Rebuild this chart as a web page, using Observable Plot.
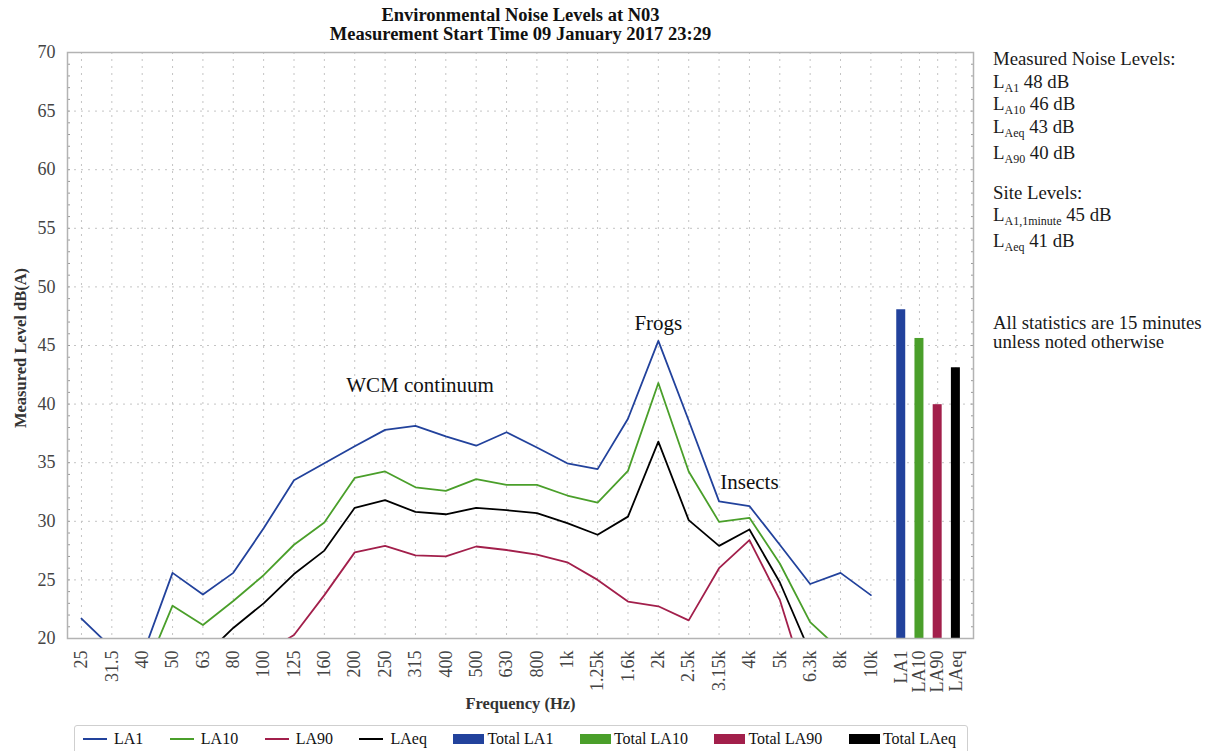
<!DOCTYPE html>
<html>
<head>
<meta charset="utf-8">
<script src="https://cdn.jsdelivr.net/npm/d3@7"></script>
<script src="https://cdn.jsdelivr.net/npm/@observablehq/plot@0.6"></script>
<style>
  body { margin: 0; background: #fff; }
  #wrap { position: relative; width: 1216px; height: 751px; overflow: hidden; font-family: "Liberation Serif", serif; }
  #chart { position: absolute; left: 0; top: 0; }
  #title { position: absolute; left: 0; top: 6px; width: 1041px; text-align: center; font-weight: bold; font-size: 18.5px; line-height: 19px; color: #111; }
  #side { position: absolute; left: 993px; top: 0; font-size: 18.8px; color: #1a1a1a; }
  #side div { position: absolute; left: 0; white-space: nowrap; line-height: 18px; }
  #side .s { font-size: 12px; position: relative; top: 4px; }
  #xlabel { position: absolute; left: 0; width: 1041px; top: 696px; text-align: center; font-weight: bold; font-size: 16.5px; line-height: 16.5px; color: #333; }
  #ylabel { position: absolute; left: 21px; top: 348px; transform: translate(-50%, -50%) rotate(-90deg); font-weight: bold; font-size: 16.5px; color: #333; white-space: nowrap; }
  #legend { position: absolute; left: 74px; top: 725px; width: 894px; height: 40px; border: 1px solid #cfcfcf; border-radius: 3px; box-sizing: border-box; display: flex; align-items: flex-start; padding: 3px 0 0 8px; gap: 26.5px; font-size: 16px; color: #111; }
  #legend .item { display: flex; align-items: center; white-space: nowrap; line-height: 20px; }
  #legend .ln { width: 24px; height: 2px; margin-right: 7px; }
  #legend .bx { width: 31px; height: 10px; margin-right: 3px; }
</style>
</head>
<body>
<div id="wrap">
  <div id="chart"></div>
  <div id="title">Environmental Noise Levels at N03<br>Measurement Start Time 09 January 2017 23:29</div>
  <div id="side">
    <div style="top:50px">Measured Noise Levels:</div>
    <div style="top:73px">L<span class="s">A1</span> 48 dB</div>
    <div style="top:95px">L<span class="s">A10</span> 46 dB</div>
    <div style="top:118px">L<span class="s">Aeq</span> 43 dB</div>
    <div style="top:144px">L<span class="s">A90</span> 40 dB</div>
    <div style="top:184px">Site Levels:</div>
    <div style="top:206px">L<span class="s">A1,1minute</span> 45 dB</div>
    <div style="top:232px">L<span class="s">Aeq</span> 41 dB</div>
    <div style="top:314px">All statistics are 15 minutes</div>
    <div style="top:333px">unless noted otherwise</div>
  </div>
  <div id="xlabel">Frequency (Hz)</div>
  <div id="ylabel">Measured Level dB(A)</div>
  <div id="legend"></div>
</div>
<script>
// ---- data ----
const freqLabels = ["25","31.5","40","50","63","80","100","125","160","200","250","315","400","500","630","800","1k","1.25k","1.6k","2k","2.5k","3.15k","4k","5k","6.3k","8k","10k"];
const la1  = [21.7, 19.2, 18.5, 25.6, 23.75, 25.6, 29.4, 33.5, 34.95, 36.4, 37.8, 38.15, 37.25, 36.45, 37.6, 36.3, 34.95, 34.45, 38.75, 45.4, 38.6, 31.7, 31.3, 28.0, 24.65, 25.6, 23.7];
const la10 = [17.5, 16.8, 16.6, 22.8, 21.15, 23.2, 25.4, 28.0, 29.9, 33.7, 34.25, 32.9, 32.6, 33.6, 33.1, 33.1, 32.2, 31.6, 34.3, 41.8, 34.25, 29.95, 30.3, 26.4, 21.4, 19.0, 18.0];
const la90 = [13.0, 12.5, 12.5, 15.5, 15.5, 16.5, 18.7, 20.3, 23.7, 27.35, 27.9, 27.1, 27.0, 27.85, 27.55, 27.15, 26.5, 25.0, 23.15, 22.75, 21.55, 26.0, 28.4, 23.3, 15.0, 13.5, 13.0];
const laeq = [16.0, 15.0, 15.0, 19.0, 18.4, 20.9, 23.0, 25.5, 27.5, 31.15, 31.8, 30.8, 30.6, 31.15, 30.95, 30.7, 29.85, 28.85, 30.4, 36.8, 30.1, 27.9, 29.3, 24.8, 18.8, 17.5, 17.0];
const seriesNames  = ["LA1", "LA10", "LA90", "LAeq"];
const seriesColors = ["#22429c", "#4a9f2a", "#a21f4b", "#000000"];
const totalLabels  = ["LA1", "LA10", "LA90", "LAeq"];
const totalValues  = [48.05, 45.6, 39.95, 43.1];
const yTicks = [20, 25, 30, 35, 40, 45, 50, 55, 60, 65, 70];
const annotations = [
  {text: "WCM continuum", band: 11.15, level: 41.6},
  {text: "Frogs", band: 19, level: 46.9},
  {text: "Insects", band: 22, level: 33.3}
];

// ---- layout helpers ----
const nb = freqLabels.length;
const totalPos = j => nb + 0.6 * j;
const allSeries = [la1, la10, la90, laeq];
const lineData = seriesNames.flatMap((s, k) => allSeries[k].map((v, i) => ({x: i, y: v, series: s})));
const yMin = yTicks[0], yMax = yTicks[yTicks.length - 1];
const barHalf = 0.148;
const totalData = totalLabels.map((t, j) => ({series: seriesNames[j], x1: totalPos(j) - barHalf, x2: totalPos(j) + barHalf, base: yMin, value: totalValues[j]}));
const xTickPos = freqLabels.map((_, i) => i).concat(totalLabels.map((_, j) => totalPos(j)));
const xTickText = new Map(xTickPos.map((p, i) => [p, i < nb ? freqLabels[i] : totalLabels[i - nb]]));
const minor = d3.range(yMin, yMax + 1, 1);
const grid = yTicks.slice(1, -1);

const chart = Plot.plot({
  width: 1216, height: 722,
  marginLeft: 67, marginRight: 243, marginTop: 52, marginBottom: 84,
  x: {domain: [-0.46, 29.38], axis: null},
  y: {domain: [yMin, yMax], axis: null},
  color: {domain: seriesNames, range: seriesColors},
  style: {fontFamily: "Liberation Serif", fontSize: "18px", color: "#444", background: "transparent"},
  marks: [
    Plot.gridY(grid, {stroke: "#c4c4c4", strokeOpacity: 1, strokeDasharray: "2,5"}),
    Plot.gridX(xTickPos, {stroke: "#c4c4c4", strokeOpacity: 1, strokeDasharray: "2,5"}),
    Plot.axisY(yTicks, {anchor: "left", tickSize: 0, tickPadding: 12, fontSize: 18, fill: "#444", label: null}),
    Plot.axisY(minor, {anchor: "left", tickSize: -3, tickFormat: () => "", stroke: "#999", label: null}),
    Plot.axisY(minor, {anchor: "right", tickSize: -3, tickFormat: () => "", stroke: "#999", label: null}),
    Plot.axisX(xTickPos, {anchor: "bottom", tickSize: 0, tickPadding: 12, tickRotate: -90, fontSize: 18, fill: "#444", tickFormat: p => xTickText.get(p), label: null}),
    Plot.rect(totalData, {x1: "x1", x2: "x2", y1: "base", y2: "value", fill: "series", clip: true}),
    Plot.line(lineData, {x: "x", y: "y", z: "series", stroke: "series", strokeWidth: 1.8, clip: true}),
    Plot.text(annotations, {x: "band", y: "level", text: "text", fontSize: 21, fill: "#111", textAnchor: "middle", lineAnchor: "middle"}),
    Plot.frame({stroke: "#b3b3b3", strokeWidth: 1.5})
  ]
});
document.getElementById("chart").appendChild(chart);

// ---- legend ----
const legend = document.getElementById("legend");
seriesNames.forEach((s, k) => {
  const it = document.createElement("div"); it.className = "item";
  it.innerHTML = `<span class="ln" style="background:${seriesColors[k]}"></span><span>${s}</span>`;
  legend.appendChild(it);
});
totalLabels.forEach((s, k) => {
  const it = document.createElement("div"); it.className = "item";
  it.innerHTML = `<span class="bx" style="background:${seriesColors[k]}"></span><span>Total ${s}</span>`;
  legend.appendChild(it);
});
</script>
</body>
</html>
